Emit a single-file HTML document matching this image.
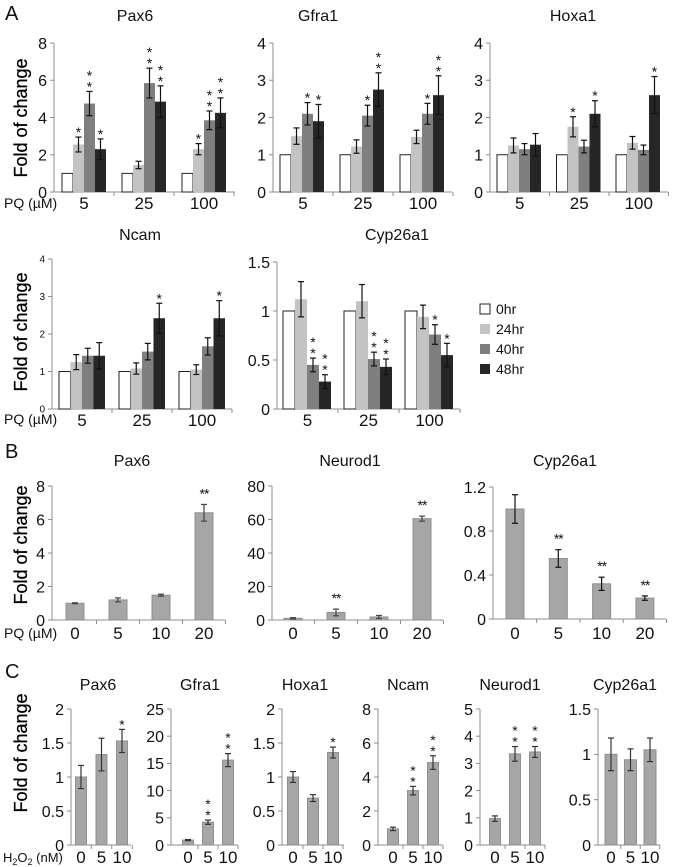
<!DOCTYPE html>
<html><head><meta charset="utf-8"><style>
html,body{margin:0;padding:0;background:#fff;}
svg{display:block;font-family:"Liberation Sans","DejaVu Sans",sans-serif;}
</style></head><body>
<svg id="fig" width="675" height="867" viewBox="0 0 675 867" xmlns="http://www.w3.org/2000/svg"></svg>
<script>
// ---------- Data ----------
const groupsA = ['5','25','100'];
const seriesA = ['0hr','24hr','40hr','48hr'];
const pax6A = [[1,2.55,4.75,2.3],[1,1.45,5.85,4.85],[1,2.3,3.85,4.25]];
const pax6AErr = [[0,0.4,0.65,0.55],[0,0.2,0.8,0.85],[0,0.3,0.5,0.8]];
const pax6ASig = [['','*','**','*'],['','','**','**'],['','*','**','**']];
const gfra1A = [[1,1.5,2.1,1.9],[1,1.22,2.05,2.75],[1,1.48,2.1,2.6]];
const gfra1AErr = [[0,0.22,0.3,0.45],[0,0.18,0.28,0.45],[0,0.18,0.28,0.52]];
const gfra1ASig = [['','','*','*'],['','','*','**'],['','','*','**']];
const hoxa1A = [[1,1.25,1.15,1.27],[1,1.75,1.22,2.1],[1,1.32,1.13,2.6]];
const hoxa1AErr = [[0,0.2,0.15,0.3],[0,0.27,0.17,0.35],[0,0.17,0.13,0.5]];
const hoxa1ASig = [['','','',''],['','*','','*'],['','','','*']];
const ncamA = [[1,1.25,1.42,1.42],[1,1.08,1.53,2.42],[1,1.05,1.67,2.42]];
const ncamAErr = [[0,0.2,0.2,0.35],[0,0.15,0.22,0.4],[0,0.13,0.23,0.47]];
const ncamASig = [['','','',''],['','','','*'],['','','','*']];
const cypA = [[1,1.12,0.45,0.28],[1,1.1,0.51,0.43],[1,0.94,0.76,0.55]];
const cypAErr = [[0,0.18,0.07,0.07],[0,0.17,0.07,0.08],[0,0.12,0.1,0.12]];
const cypASig = [['','','**','**'],['','','**','**'],['','','*','*']];

const catsB = ['0','5','10','20'];
const pax6B = [1.0,1.2,1.48,6.4];
const pax6BErr = [0.03,0.12,0.06,0.5];
const pax6BSig = ['','','','**'];
const neurod1B = [1,4.5,1.8,60.5];
const neurod1BErr = [0.4,2,0.9,1.5];
const neurod1BSig = ['','**','','**'];
const cypB = [1.0,0.55,0.32,0.19];
const cypBErr = [0.13,0.08,0.06,0.02];
const cypBSig = ['','**','**','**'];

const catsC = ['0','5','10'];
const pax6C = [1.0,1.33,1.53];
const pax6CErr = [0.17,0.24,0.17];
const pax6CSig = ['','','*'];
const gfra1C = [0.9,4.2,15.6];
const gfra1CErr = [0.1,0.4,1.2];
const gfra1CSig = ['','**','**'];
const hoxa1C = [1.0,0.69,1.36];
const hoxa1CErr = [0.08,0.05,0.08];
const hoxa1CSig = ['','','*'];
const ncamC = [0.95,3.2,4.85];
const ncamCErr = [0.1,0.25,0.4];
const ncamCSig = ['','**','**'];
const neurod1C = [0.97,3.35,3.42];
const neurod1CErr = [0.1,0.27,0.2];
const neurod1CSig = ['','**','**'];
const cypC = [1.0,0.94,1.05];
const cypCErr = [0.18,0.12,0.13];
const cypCSig = ['','',''];

const ticksPax6A = [0,2,4,6,8];
const ticks4 = [0,1,2,3,4];
const ticksCypA = [0,0.5,1,1.5];
const ticksPax6B = [0,2,4,6,8];
const ticksNeuroB = [0,20,40,60,80];
const ticksCypB = [0,0.4,0.8,1.2];
const ticksPax6C = [0,0.5,1,1.5,2];
const ticksGfraC = [0,5,10,15,20,25];
const ticksHoxaC = [0,0.5,1,1.5,2];
const ticksNcamC = [0,2,4,6,8];
const ticksNeuroC = [0,1,2,3,4,5];
const ticksCypC = [0,0.5,1,1.5];

// ---------- Helpers ----------
const svg = document.getElementById('fig');
const NS = 'http://www.w3.org/2000/svg';
function el(tag, attrs, parent){
  const e = document.createElementNS(NS, tag);
  for (const k in attrs) e.setAttribute(k, attrs[k]);
  (parent||svg).appendChild(e);
  return e;
}
function txt(s, x, y, size, anchor, parent, extra){
  const t = el('text', Object.assign({x:x, y:y, 'font-size':size, 'text-anchor':anchor||'middle', fill:'#111'}, extra||{}), parent);
  t.textContent = s;
  return t;
}
const fillsA = ['#ffffff','#c3c3c3','#7f7f7f','#262626'];
function fmt(v){ return String(v); }

function yAxis(g, c, ticks, tickSize){
  const ys = v => c.y0 - v / c.max * (c.y0 - c.yTop);
  el('line',{x1:c.ax,y1:c.y0,x2:c.ax,y2:c.yTop,stroke:'#8c8c8c','stroke-width':1},g);
  el('line',{x1:c.ax,y1:c.y0,x2:c.axEnd,y2:c.y0,stroke:'#8c8c8c','stroke-width':1},g);
  ticks.forEach(t=>{
    const y = ys(t);
    el('line',{x1:c.ax-4,y1:y,x2:c.ax,y2:y,stroke:'#8c8c8c','stroke-width':1},g);
    const lab = txt(fmt(t), c.ax-7, y+tickSize*0.36, tickSize, 'end', g);
    
    
  });
  return ys;
}
function stars(g, s, x, y, stacked){
  if(!s) return;
  if(stacked){
    for(let i=0;i<s.length;i++){
      const t = txt('*', x, y - 2 - i*11 + 8, 14, 'middle', g);
      
      
    }
  } else {
    const t = txt(s, x, y + 6, 14, 'middle', g, {'letter-spacing':'-1'});
    
    
  }
}
function errBar(g, x, yTop, yBot, w, col){
  el('line',{x1:x,y1:yTop,x2:x,y2:yBot,stroke:col,'stroke-width':1.2},g);
  el('line',{x1:x-w,y1:yTop,x2:x+w,y2:yTop,stroke:col,'stroke-width':1.2},g);
  el('line',{x1:x-w,y1:yBot,x2:x+w,y2:yBot,stroke:col,'stroke-width':1.2},g);
}

function grouped(name, c, ticks, vals, errs, sigs){
  const g = el('g',{});
  
  
  const ys = yAxis(g, c, ticks, c.tickSize);
  const t = txt(c.title, c.titleX, c.titleY, 16, 'middle', g);
  
  
  groupsA.forEach((gl, gi)=>{
    const gx = c.ax + gi*c.gw;
    el('line',{x1:gx+c.gw,y1:c.y0,x2:gx+c.gw,y2:c.y0+4,stroke:'#8c8c8c','stroke-width':1},g);
    const cl = txt(gl, gx + c.gw/2, c.y0+17, 17, 'middle', g);
    
    
    vals[gi].forEach((v, si)=>{
      const bx = gx + c.off + si*c.bw;
      const y = ys(v);
      const r = el('rect',{x:bx,y:y,width:c.bw,height:c.y0-y,fill:fillsA[si],stroke:si===0?'#222':'none','stroke-width':1},g);
      
      
      const e = errs[gi][si];
      if(e>0){
        errBar(g, bx+c.bw/2, ys(v+e), ys(v-e), 3, '#111');
        stars(g, sigs[gi][si], bx+c.bw/2, ys(v+e)-6, true);
      }
    });
  });
  return g;
}

function simple(name, c, cats, ticks, vals, errs, sigs, stacked){
  const g = el('g',{});
  
  
  const ys = yAxis(g, c, ticks, c.tickSize);
  const t = txt(c.title, c.titleX, c.titleY, 16, 'middle', g);
  
  
  cats.forEach((cl, i)=>{
    const cx = c.cx0 + i*c.sp;
    el('line',{x1:cx+c.sp/2,y1:c.y0,x2:cx+c.sp/2,y2:c.y0+4,stroke:'#8c8c8c','stroke-width':1},g);
    const lab = txt(cl, cx, c.y0+c.labDy, 17, 'middle', g);
    
    
    const y = ys(vals[i]);
    const r = el('rect',{x:cx-c.bw/2,y:y,width:c.bw,height:c.y0-y,fill:'#a6a6a6',stroke:'#8f8f8f','stroke-width':1},g);
    
    
    errBar(g, cx, ys(vals[i]+errs[i]), ys(vals[i]-errs[i]), 3, c.errCol||'#333');
    stars(g, sigs[i], cx, ys(vals[i]+errs[i]) - (stacked?6:12), stacked);
  });
  return g;
}

// ---------- Panel labels ----------
[['A',5,20],['B',5,458],['C',5,678]].forEach(p=>{
  const t = txt(p[0], p[1], p[2], 20, 'start');
  
  
});
[[22,118],[22,332],[22,545],[22,753]].forEach(p=>{
  const t = txt('Fold of change', p[0], p[1], 18, 'middle', svg, {transform:'rotate(-90 '+p[0]+' '+p[1]+')', 'dominant-baseline':'middle', fill:'#000', stroke:'#000', 'stroke-width':0.3});
  
  
});
[[4,208],[4,424],[4,638]].forEach(p=>{
  const t = txt('PQ (\u00b5M)', p[0], p[1], 14, 'start');
  
  
});
const h = txt('', 3, 862, 13, 'start');


h.innerHTML = 'H<tspan font-size="9" dy="3">2</tspan><tspan dy="-3">O</tspan><tspan font-size="9" dy="3">2</tspan><tspan dy="-3"> (nM)</tspan>';

// ---------- Panel A ----------
grouped('chart-a-pax6',{ax:54,axEnd:235,gw:60,off:8,bw:11,y0:192,yTop:43,max:8,tickSize:16,title:'Pax6',titleX:135,titleY:21},ticksPax6A,pax6A,pax6AErr,pax6ASig);
grouped('chart-a-gfra1',{ax:273,axEnd:452,gw:60,off:7,bw:11,y0:192,yTop:43,max:4,tickSize:16,title:'Gfra1',titleX:318,titleY:21},ticks4,gfra1A,gfra1AErr,gfra1ASig);
grouped('chart-a-hoxa1',{ax:490,axEnd:668,gw:59.5,off:7,bw:11,y0:192,yTop:43,max:4,tickSize:16,title:'Hoxa1',titleX:573,titleY:21},ticks4,hoxa1A,hoxa1AErr,hoxa1ASig);
grouped('chart-a-ncam',{ax:52,axEnd:232,gw:60,off:7,bw:11.5,y0:409,yTop:259,max:4,tickSize:10,title:'Ncam',titleX:140,titleY:240},ticks4,ncamA,ncamAErr,ncamASig);
grouped('chart-a-cyp26a1',{ax:277,axEnd:460,gw:61,off:6,bw:12,y0:409,yTop:262,max:1.5,tickSize:16,title:'Cyp26a1',titleX:397,titleY:240},ticksCypA,cypA,cypAErr,cypASig);

// legend
const lg = el('g',{});


seriesA.forEach((s,i)=>{
  const y = 304 + i*20;
  const r = el('rect',{x:480,y:y,width:10,height:10,fill:fillsA[i],stroke:i===0?'#222':'none'},lg);
  
  
  const t = txt(s, 496, y+10, 14, 'start', lg);
  
  
});

// ---------- Panel B ----------
simple('chart-b-pax6',{ax:52,axEnd:225,cx0:75,sp:43,bw:18,y0:620,yTop:486,max:8,tickSize:16,title:'Pax6',titleX:132,titleY:466,errCol:'#444',labDy:19},catsB,ticksPax6B,pax6B,pax6BErr,pax6BSig,false);
simple('chart-b-neurod1',{ax:272,axEnd:443,cx0:293,sp:43,bw:18,y0:620,yTop:486,max:80,tickSize:16,title:'Neurod1',titleX:350,titleY:466,errCol:'#444',labDy:19},catsB,ticksNeuroB,neurod1B,neurod1BErr,neurod1BSig,false);
simple('chart-b-cyp26a1',{ax:493,axEnd:666,cx0:515,sp:43.3,bw:18,y0:619,yTop:487,max:1.2,tickSize:16,title:'Cyp26a1',titleX:565,titleY:466,errCol:'#111',labDy:20},catsB,ticksCypB,cypB,cypBErr,cypBSig,false);

// ---------- Panel C ----------
const cy0 = 845, cyT = 709;
simple('chart-c-pax6',{ax:71,axEnd:131,cx0:81,sp:20.5,bw:11,y0:cy0,yTop:cyT,max:2,tickSize:16,title:'Pax6',titleX:98,titleY:690,labDy:18},catsC,ticksPax6C,pax6C,pax6CErr,pax6CSig,true);
simple('chart-c-gfra1',{ax:171,axEnd:238,cx0:188,sp:20,bw:11,y0:cy0,yTop:cyT,max:25,tickSize:16,title:'Gfra1',titleX:200,titleY:690,labDy:18},catsC,ticksGfraC,gfra1C,gfra1CErr,gfra1CSig,true);
simple('chart-c-hoxa1',{ax:282,axEnd:344,cx0:293,sp:20,bw:11,y0:cy0,yTop:cyT,max:2,tickSize:16,title:'Hoxa1',titleX:305,titleY:690,labDy:18},catsC,ticksHoxaC,hoxa1C,hoxa1CErr,hoxa1CSig,true);
simple('chart-c-ncam',{ax:378,axEnd:443,cx0:393,sp:20,bw:11,y0:cy0,yTop:cyT,max:8,tickSize:16,title:'Ncam',titleX:408,titleY:690,labDy:18},catsC,ticksNcamC,ncamC,ncamCErr,ncamCSig,true);
simple('chart-c-neurod1',{ax:480,axEnd:545,cx0:495,sp:20,bw:11,y0:cy0,yTop:cyT,max:5,tickSize:16,title:'Neurod1',titleX:510,titleY:690,labDy:18},catsC,ticksNeuroC,neurod1C,neurod1CErr,neurod1CSig,true);
simple('chart-c-cyp26a1',{ax:598,axEnd:660,cx0:611,sp:19.5,bw:12,y0:cy0,yTop:cyT,max:1.5,tickSize:16,title:'Cyp26a1',titleX:625,titleY:690,labDy:18},catsC,ticksCypC,cypC,cypCErr,cypCSig,true);
</script>
</body></html>
